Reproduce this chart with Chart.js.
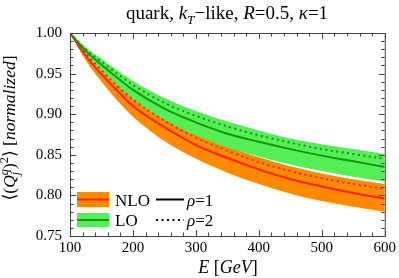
<!DOCTYPE html>
<html>
<head>
<meta charset="utf-8">
<script src="https://cdn.jsdelivr.net/npm/chart.js@4"></script>
<style>
html, body { margin: 0; padding: 0; background: #fff; }
#wrap { width: 399px; height: 278px; }
</style>
</head>
<body>
<div id="wrap"><canvas id="chart"></canvas></div>
<script>
// energies in GeV
const energies = [100, 125, 150, 175, 200, 250, 300, 350, 400, 450, 500, 550, 600];

// LO (green)
const loRho1 = [1.000, 0.978, 0.961, 0.945, 0.930, 0.907, 0.890, 0.876, 0.866, 0.857, 0.849, 0.842, 0.835];
const loRho2 = [1.000, 0.980, 0.965, 0.950, 0.936, 0.914, 0.898, 0.885, 0.874, 0.865, 0.857, 0.851, 0.845];
const loUpper = [1.000, 0.982, 0.968, 0.954, 0.941, 0.920, 0.904, 0.891, 0.880, 0.870, 0.863, 0.857, 0.851];
const loLower = [1.000, 0.974, 0.953, 0.935, 0.918, 0.893, 0.874, 0.859, 0.848, 0.838, 0.830, 0.823, 0.817];

// NLO (orange / red)
const nloRho1 = [1.000, 0.972, 0.949, 0.929, 0.910, 0.884, 0.862, 0.846, 0.832, 0.820, 0.811, 0.803, 0.796];
const nloRho2 = [1.000, 0.975, 0.954, 0.935, 0.918, 0.892, 0.871, 0.855, 0.841, 0.830, 0.821, 0.814, 0.808];
const nloUpper = [1.000, 0.977, 0.957, 0.939, 0.922, 0.896, 0.876, 0.860, 0.847, 0.836, 0.827, 0.820, 0.814];
const nloLower = [1.000, 0.966, 0.940, 0.917, 0.897, 0.867, 0.845, 0.828, 0.814, 0.802, 0.793, 0.786, 0.780];

const xTicks = [100, 200, 300, 400, 500, 600];
const yTicks = [0.75, 0.80, 0.85, 0.90, 0.95, 1.00];

const GREEN_BAND = '#55ee55';
const GREEN_LINE = '#109910';
const ORANGE_BAND = '#ff8a00';
const RED_LINE = '#ff2200';
const SERIF = '"Liberation Serif", "DejaVu Serif", serif';

Chart.defaults.font.family = SERIF;

const pts = arr => arr.map((v, i) => ({ x: energies[i], y: v }));

const lineDs = (data, color, dash) => ({
    data: pts(data),
    borderColor: color,
    borderWidth: 2,
    borderDash: dash || [],
    pointRadius: 0,
    fill: false,
    cubicInterpolationMode: 'monotone',
    order: 0
});

const bandDs = (data, color, fillTo) => ({
    data: pts(data),
    borderWidth: 0,
    borderColor: 'rgba(0,0,0,0)',
    backgroundColor: color,
    pointRadius: 0,
    fill: fillTo === undefined ? false : fillTo,
    cubicInterpolationMode: 'monotone',
    order: 1
});

// --- rich text helper (italic, sub/superscripts) ---
function drawRich(ctx, parts, x, y, size, align) {
    let w = 0;
    let prev = null;
    const items = parts.map(p => {
        const s = size * (p.s || 1);
        const font = (p.i ? 'italic ' : '') + s + 'px ' + SERIF;
        ctx.font = font;
        const pw = ctx.measureText(p.t).width;
        let px = w;
        if (p.o && prev) {
            px = prev.x;
            w = prev.x + Math.max(prev.pw, pw);
        } else {
            w += pw;
        }
        const r = { t: p.t, font, pw, x: px, dy: (p.dy || 0) * size };
        prev = r;
        return r;
    });
    const x0 = align === 'center' ? x - w / 2 : x;
    ctx.textBaseline = 'alphabetic';
    ctx.textAlign = 'left';
    items.forEach(r => {
        ctx.font = r.font;
        ctx.fillText(r.t, x0 + r.x, y + r.dy);
    });
}

const titleParts = [
    { t: 'quark, ' },
    { t: 'k', i: true },
    { t: 'T', i: true, s: 0.7, dy: 0.25 },
    { t: '\u2212like, ' },
    { t: 'R', i: true },
    { t: '=0.5, ' },
    { t: '\u03BA', i: true },
    { t: '=1' }
];

const yTitleParts = [
    { t: '\u27E8(' },
    { t: 'Q', i: true },
    { t: 'q', i: true, s: 0.7, dy: -0.4 },
    { t: 'j', i: true, s: 0.7, dy: 0.25, o: true },
    { t: ')' },
    { t: '2', s: 0.7, dy: -0.4 },
    { t: '\u27E9 [' },
    { t: 'normalized', i: true },
    { t: ']' }
];

const xTitleParts = [
    { t: 'E', i: true },
    { t: ' [' },
    { t: 'GeV', i: true },
    { t: ']' }
];

const framePlugin = {
    id: 'frame',
    afterDraw(chart) {
        const { ctx, chartArea: a, scales } = chart;
        const xs = scales.x, ys = scales.y;
        ctx.save();
        ctx.strokeStyle = '#444';
        ctx.lineWidth = 1;
        ctx.strokeRect(a.left + 0.5, a.top + 0.5, a.right - a.left, a.bottom - a.top);

        ctx.beginPath();
        for (let v = 75; v <= 100; v++) {
            const py = Math.round(ys.getPixelForValue(v / 100)) + 0.5;
            const len = v % 5 === 0 ? 6 : 3.5;
            ctx.moveTo(a.left, py); ctx.lineTo(a.left + len, py);
            ctx.moveTo(a.right, py); ctx.lineTo(a.right - len, py);
        }
        for (let e = 100; e <= 600; e += 20) {
            const px = Math.round(xs.getPixelForValue(e)) + 0.5;
            const len = e % 100 === 0 ? 6 : 3.5;
            ctx.moveTo(px, a.bottom); ctx.lineTo(px, a.bottom - len);
            ctx.moveTo(px, a.top); ctx.lineTo(px, a.top + len);
        }
        ctx.stroke();

        // legend
        const lx = 77, lw = 32;
        ctx.fillStyle = ORANGE_BAND;
        ctx.fillRect(lx, 192, lw, 15);
        ctx.fillStyle = GREEN_BAND;
        ctx.fillRect(lx, 213, lw, 14);
        ctx.lineWidth = 2;
        ctx.strokeStyle = RED_LINE;
        ctx.beginPath(); ctx.moveTo(lx, 199.5); ctx.lineTo(lx + lw, 199.5); ctx.stroke();
        ctx.strokeStyle = GREEN_LINE;
        ctx.beginPath(); ctx.moveTo(lx, 220); ctx.lineTo(lx + lw, 220); ctx.stroke();
        ctx.strokeStyle = '#000';
        ctx.beginPath(); ctx.moveTo(156, 199.5); ctx.lineTo(184, 199.5); ctx.stroke();
        ctx.setLineDash([2, 3.5]);
        ctx.beginPath(); ctx.moveTo(156, 220); ctx.lineTo(184, 220); ctx.stroke();
        ctx.setLineDash([]);

        ctx.fillStyle = '#000';
        drawRich(ctx, [{ t: 'NLO' }], 115, 205.5, 17, 'left');
        drawRich(ctx, [{ t: 'LO' }], 115, 226, 17, 'left');
        drawRich(ctx, [{ t: '\u03C1', i: true }, { t: '=1' }], 187, 205.5, 17, 'left');
        drawRich(ctx, [{ t: '\u03C1', i: true }, { t: '=2' }], 187, 226, 17, 'left');

        // titles
        drawRich(ctx, titleParts, 227, 19, 19, 'center');
        drawRich(ctx, xTitleParts, 228, 273, 18, 'center');
        ctx.translate(15, 128);
        ctx.rotate(-Math.PI / 2);
        drawRich(ctx, yTitleParts, 0, 0, 17.5, 'center');
        ctx.restore();
    }
};

new Chart(document.getElementById('chart'), {
    type: 'line',
    data: {
        datasets: [
            lineDs(loRho2, GREEN_LINE, [2, 3.5]),
            lineDs(loRho1, GREEN_LINE),
            lineDs(nloRho2, RED_LINE, [2, 3.5]),
            lineDs(nloRho1, RED_LINE),
            bandDs(loUpper, GREEN_BAND, 5),
            bandDs(loLower, GREEN_BAND),
            bandDs(nloUpper, ORANGE_BAND, 7),
            bandDs(nloLower, ORANGE_BAND)
        ]
    },
    options: {
        responsive: true,
        maintainAspectRatio: false,
        animation: false,
        events: [],
        layout: { padding: { top: 33, right: 12, left: 0, bottom: 0 } },
        plugins: {
            legend: { display: false },
            tooltip: { enabled: false },
            title: { display: false }
        },
        scales: {
            x: {
                type: 'linear',
                min: 100,
                max: 600,
                afterBuildTicks: s => { s.ticks = xTicks.map(v => ({ value: v })); },
                afterFit: s => { s.height = 42; },
                grid: { display: false, drawTicks: false },
                border: { display: false },
                ticks: {
                    padding: 3,
                    color: '#000',
                    font: { family: SERIF, size: 15 },
                    maxRotation: 0,
                    callback: v => String(v)
                }
            },
            y: {
                type: 'linear',
                min: 0.75,
                max: 1.0,
                afterBuildTicks: s => { s.ticks = yTicks.map(v => ({ value: v })); },
                afterFit: s => { s.width = 70; },
                grid: { display: false, drawTicks: false },
                border: { display: false },
                ticks: {
                    padding: 8,
                    color: '#000',
                    font: { family: SERIF, size: 15 },
                    callback: v => Number(v).toFixed(2)
                }
            }
        }
    },
    plugins: [framePlugin]
});
</script>
</body>
</html>
